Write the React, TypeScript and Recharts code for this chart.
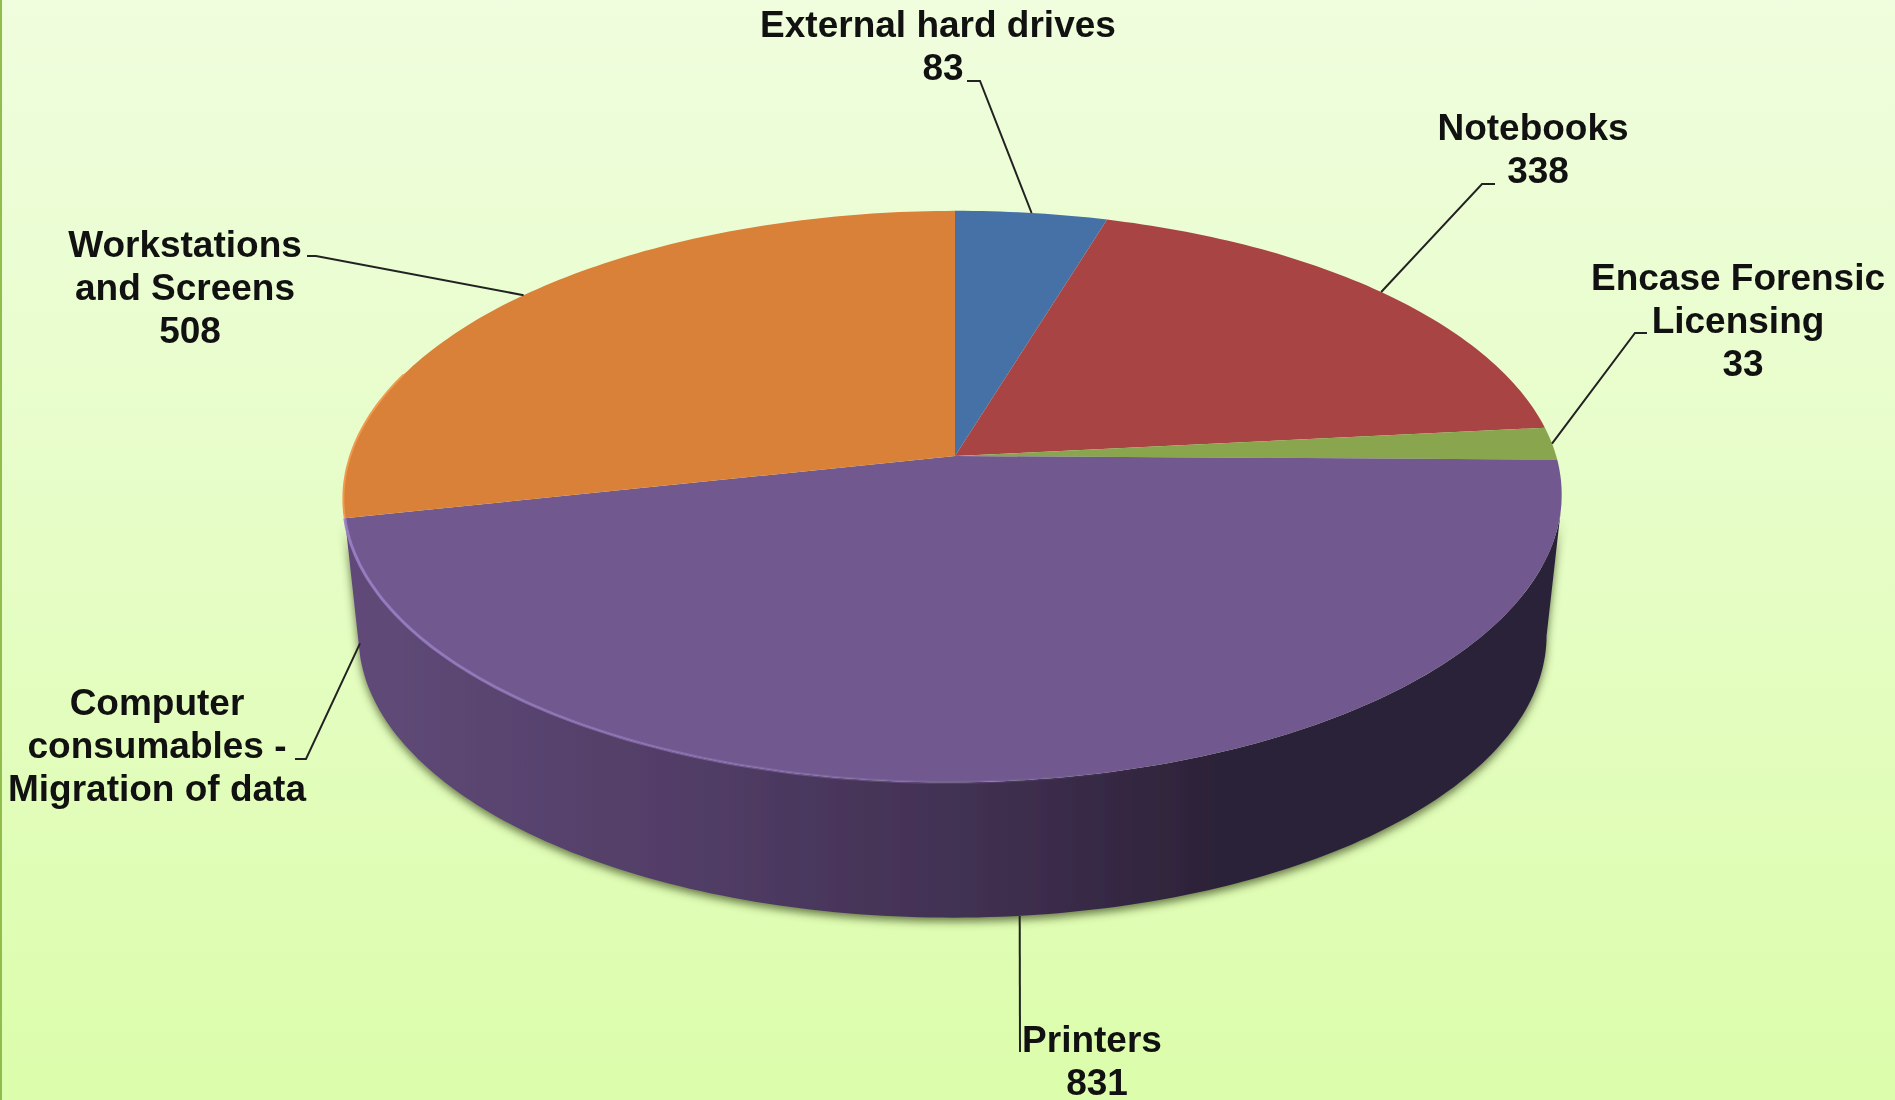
import { Cell, Pie, PieChart } from "recharts";

const categories = [
  "External hard drives",
  "Notebooks",
  "Encase Forensic Licensing",
  "Printers",
  "Computer consumables - Migration of data",
  "Workstations and Screens",
];
const values = [83, 338, 33, 831, 0, 508];
const colors = ["#4571a6", "#a84544", "#89a54e", "#71588f", "#5f4875", "#d98039"];

const pieData = categories.map((name, i) => ({ name, value: values[i] }));

// label text is laid out by hand, one entry per slice
const labelLines = [
  ["External hard drives", "83"],
  ["Notebooks", "338"],
  ["Encase Forensic", "Licensing", "33"],
  ["Printers", "831"],
  ["Computer", "consumables -", "Migration of data"],
  ["Workstations", "and Screens", "508"],
];
const labelSpots = [
  { x: 938, y: 37 },
  { x: 1533, y: 140 },
  { x: 1738, y: 290 },
  { x: 1092, y: 1052 },
  { x: 157, y: 715 },
  { x: 185, y: 257 },
];
const leaderElbows = [
  [{ x: 967, y: 81 }, { x: 980, y: 81 }],
  [{ x: 1495, y: 184 }, { x: 1482, y: 184 }],
  [{ x: 1647, y: 333 }, { x: 1635, y: 333 }],
  [{ x: 1020, y: 1052 }],
  [{ x: 295, y: 759 }, { x: 306, y: 759 }],
  [{ x: 307, y: 256 }, { x: 316, y: 256 }],
];
// these two leaders end on the side wall, not on the top face
const leaderOnWall = [false, false, false, true, true, false];
const leaderLift = [0, 0, 0, 0, 12, 0];

const WIDTH = 1895;
const HEIGHT = 1100;
const CX = 955;
const CY = 456;
const RADIUS = 603;
const RAD = Math.PI / 180;

// perspective tilt of the pie: the near edge is bigger than the far edge
function project(cx: number, cy: number, r: number, angle: number, wall = false) {
  const u = Math.cos(angle * RAD);
  const v = -Math.sin(angle * RAD);
  const den = 1 - 0.142 * v + 0.004 * u;
  if (wall) {
    return {
      x: cx + (r * 0.975 * u) / den,
      y: cy + 140 + (276 * (r / RADIUS) * v) / den,
    };
  }
  return {
    x: cx + (r * u) / den,
    y: cy + ((-2 * u + 280 * v) * (r / RADIUS)) / den,
  };
}

function arcPoints(cx: number, cy: number, r: number, start: number, end: number, wall = false) {
  const pts = [];
  const steps = Math.max(2, Math.ceil(Math.abs(end - start)));
  for (let i = 0; i <= steps; i++) {
    pts.push(project(cx, cy, r, start + ((end - start) * i) / steps, wall));
  }
  return pts;
}

const toPath = (pts: { x: number; y: number }[]) =>
  pts.map((p, i) => `${i === 0 ? "M" : "L"}${p.x.toFixed(1)},${p.y.toFixed(1)}`).join(" ");

function TiltedSlice(props: any) {
  const { cx, cy, outerRadius, startAngle, endAngle, fill, index } = props;
  if (Math.abs(endAngle - startAngle) < 0.01) return <g />;
  const rim = arcPoints(cx, cy, outerRadius, startAngle, endAngle);
  const mid = (startAngle + endAngle) / 2;
  const isFront = -Math.sin(mid * RAD) > 0.5;
  // the wall only shows from just below the widest point on the right
  const wallTop = isFront ? arcPoints(cx, cy, outerRadius, startAngle - 10, endAngle) : [];
  const wallLow = isFront ? arcPoints(cx, cy, outerRadius, endAngle, startAngle - 7, true) : [];
  return (
    <g>
      {isFront && (
        <path
          d={toPath([...wallTop, ...wallLow]) + " Z"}
          fill="url(#wallShade)"
          filter="url(#wallShadow)"
        />
      )}
      <path d={`M${cx},${cy} ${toPath(rim).replace("M", "L")} Z`} fill={fill} />
      {isFront && <path d={toPath(rim)} fill="none" stroke="url(#rimLight)" strokeWidth={3} />}
      {index === 5 && (
        <path
          d={toPath(arcPoints(cx, cy, outerRadius, startAngle, startAngle - 30))}
          fill="none"
          stroke="#f09a4e"
          strokeWidth={2}
        />
      )}
    </g>
  );
}

function SliceLabel(props: any) {
  const { index } = props;
  const spot = labelSpots[index];
  const lines = labelLines[index];
  return (
    <text
      x={spot.x}
      y={spot.y}
      textAnchor="middle"
      fontFamily="'Liberation Sans', Arial, sans-serif"
      fontWeight="bold"
      fontSize={37}
      fill="#111"
    >
      {lines.map((line, i) => (
        <tspan key={line} x={/^\d+$/.test(line) ? spot.x + 5 : spot.x} dy={i === 0 ? 0 : 43}>
          {line}
        </tspan>
      ))}
    </text>
  );
}

function LeaderLine(props: any) {
  const { index, cx, cy, outerRadius, startAngle, endAngle } = props;
  const end = project(cx, cy, outerRadius, (startAngle + endAngle) / 2, leaderOnWall[index]);
  const tip = { x: end.x, y: end.y - leaderLift[index] };
  return (
    <path d={toPath([...leaderElbows[index], tip])} fill="none" stroke="#222" strokeWidth={2} />
  );
}

export default function App() {
  return (
    <div
      style={{
        position: "absolute",
        left: 0,
        top: 0,
        width: WIDTH,
        height: HEIGHT,
        overflow: "hidden",
        background: "linear-gradient(180deg, #f0fdde 0%, #e6fdc6 50%, #dcfdab 100%)",
        borderLeft: "2px solid #90bd4c",
        boxSizing: "border-box",
      }}
    >
      <div style={{ position: "absolute", left: -2, top: 0, filter: "blur(0.6px)" }}>
        <PieChart width={WIDTH} height={HEIGHT} margin={{ top: 0, right: 0, bottom: 0, left: 0 }}>
          <defs>
            <linearGradient id="wallShade" gradientUnits="userSpaceOnUse" x1="350" y1="0" x2="1560" y2="0">
              <stop offset="0%" stopColor="#604a78" />
              <stop offset="30%" stopColor="#503c65" />
              <stop offset="55%" stopColor="#3e2e4e" />
              <stop offset="72%" stopColor="#2c2238" />
              <stop offset="100%" stopColor="#2c2238" />
            </linearGradient>
            <linearGradient id="rimLight" gradientUnits="userSpaceOnUse" x1="350" y1="0" x2="1150" y2="0">
              <stop offset="0%" stopColor="#9a80c6" stopOpacity={0.9} />
              <stop offset="100%" stopColor="#9a80c6" stopOpacity={0} />
            </linearGradient>
            <filter id="wallShadow" x="-5%" y="-5%" width="110%" height="115%">
              <feDropShadow dx="0" dy="4" stdDeviation="4" floodColor="#3f4f20" floodOpacity="0.75" />
            </filter>
          </defs>
          <Pie
            data={pieData}
            dataKey="value"
            nameKey="name"
            cx={CX}
            cy={CY}
            innerRadius={0}
            outerRadius={RADIUS}
            startAngle={90}
            endAngle={-270}
            stroke="none"
            shape={TiltedSlice}
            label={SliceLabel}
            labelLine={LeaderLine}
            isAnimationActive={false}
          >
            {pieData.map((d, i) => (
              <Cell key={d.name} fill={colors[i]} />
            ))}
          </Pie>
        </PieChart>
      </div>
    </div>
  );
}
